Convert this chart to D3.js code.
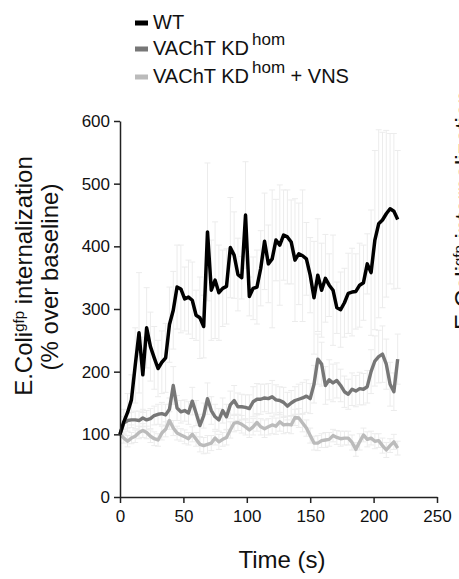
<!DOCTYPE html>
<html>
<head>
<meta charset="utf-8">
<script src="https://cdnjs.cloudflare.com/ajax/libs/d3/7.8.5/d3.min.js"></script>
<style>
  body { margin: 0; background: #fff; }
  svg text { font-family: "Liberation Sans", Arial, sans-serif; fill: #111; }
</style>
</head>
<body>
<div id="chart"></div>
<script>

//Time points (s)
var time = [0,3,6,9,12,15,18,21,24,27,30,33,36,39,42,45,48,51,54,57,60,63,66,69,72,75,78,81,84,87,
	90,93,96,99,102,105,108,111,114,117,120,123,126,129,132,135,138,141,144,147,150,153,156,159,
	162,165,168,171,174,177,180,183,186,189,192,195,198,201,204,207,210,213,216,219];

//WT mean and sem
var wtMean = [100,120,135,155,210,262,195,270,240,222,205,215,222,275,298,335,332,316,319,314,
	290,286,272,423,330,346,326,333,336,398,386,355,350,450,320,333,335,365,408,372,
	380,410,402,418,415,407,378,388,385,380,354,318,354,330,349,338,330,302,299,310,
	325,327,328,338,342,372,358,410,436,442,452,460,456,443];
var wtErr = [0,20,30,40,60,96,60,64,55,50,45,50,55,60,62,67,70,51,59,61,
	40,65,50,110,80,93,76,61,60,80,69,58,34,85,31,50,59,60,77,62,
	110,65,96,72,75,67,98,81,105,58,60,90,90,75,70,50,88,41,60,55,
	64,70,60,67,60,48,100,143,150,140,133,120,124,110];

//VAChT KD hom mean and sem
var kdMean = [100,118,122,123,123,122,126,123,125,130,132,133,131,140,178,142,136,138,134,153,
	134,114,130,157,138,128,123,138,128,147,154,144,144,143,141,152,156,156,158,157,
	160,155,154,151,145,150,154,156,158,161,157,180,220,212,178,187,182,186,178,168,
	164,172,169,173,172,176,200,217,224,228,212,180,168,220];
var kdErr = [0,10,12,12,14,15,14,15,16,15,16,18,17,18,30,20,18,17,18,22,
	20,18,20,25,22,20,18,20,20,22,24,22,20,20,22,24,25,24,22,24,
	26,24,22,24,22,20,22,24,25,26,24,30,40,35,30,32,30,28,26,25,
	24,26,25,26,25,26,35,40,42,45,40,35,30,40];

//VAChT KD hom + VNS mean and sem
var vnsMean = [100,94,89,94,97,103,106,103,97,93,91,102,108,122,110,102,99,96,93,100,
	92,84,82,84,86,94,88,92,95,107,118,119,116,112,107,112,119,112,109,112,
	115,113,120,115,116,115,127,126,118,110,98,86,86,90,91,92,98,95,93,94,
	94,87,76,88,99,92,94,89,90,82,75,82,88,78];
var vnsErr = [0,8,9,9,10,10,11,10,10,11,10,11,12,14,12,11,10,11,10,12,
	11,12,13,14,12,11,12,11,12,13,14,13,14,13,12,13,14,13,14,13,
	14,13,15,14,13,14,13,15,14,13,12,11,12,11,12,11,10,11,12,11,
	11,12,11,13,11,12,11,12,11,12,12,11,12,11];

//Axis ticks
var xTicks = [0,50,100,150,200,250];
var yTicks = [0,100,200,300,400,500,600];

var seriesNames = ["WT", "VAChT KD", "VAChT KD"];
var seriesColors = ["#000000", "#777777", "#bbbbbb"];

var series = [
	{mean: wtMean, err: wtErr, color: seriesColors[0], width: 3.5},
	{mean: kdMean, err: kdErr, color: seriesColors[1], width: 3.4},
	{mean: vnsMean, err: vnsErr, color: seriesColors[2], width: 3.4}
];

var width = 459,
	height = 579;

var svg = d3.select("#chart").append("svg")
	.attr("width", width)
	.attr("height", height);

var x = d3.scaleLinear().domain([0, 250]).range([120, 437]);
var y = d3.scaleLinear().domain([0, 600]).range([497, 121]);

///////////////////////////////////////////////////////////////////////////
/////////////////////////////// Error bars ////////////////////////////////
///////////////////////////////////////////////////////////////////////////

var errG = svg.append("g")
	.attr("stroke", "#ececec")
	.attr("stroke-width", 1)
	.attr("fill", "none");

series.forEach(function(s) {
	var pts = time.map(function(t, i) { return {t: t, m: s.mean[i], e: s.err[i]}; })
		.filter(function(d) { return d.e > 0; });
	var g = errG.append("g");
	g.selectAll(".whisker")
		.data(pts)
		.enter().append("line")
		.attr("x1", function(d) { return x(d.t); })
		.attr("x2", function(d) { return x(d.t); })
		.attr("y1", function(d) { return y(d.m - d.e); })
		.attr("y2", function(d) { return y(d.m + d.e); });
	g.selectAll(".capTop")
		.data(pts)
		.enter().append("line")
		.attr("x1", function(d) { return x(d.t) - 3; })
		.attr("x2", function(d) { return x(d.t) + 3; })
		.attr("y1", function(d) { return y(d.m + d.e); })
		.attr("y2", function(d) { return y(d.m + d.e); });
	g.selectAll(".capBot")
		.data(pts)
		.enter().append("line")
		.attr("x1", function(d) { return x(d.t) - 3; })
		.attr("x2", function(d) { return x(d.t) + 3; })
		.attr("y1", function(d) { return y(d.m - d.e); })
		.attr("y2", function(d) { return y(d.m - d.e); });
});

///////////////////////////////////////////////////////////////////////////
///////////////////////////////// Lines ///////////////////////////////////
///////////////////////////////////////////////////////////////////////////

var line = d3.line()
	.x(function(d) { return x(d[0]); })
	.y(function(d) { return y(d[1]); });

//draw light first so black is on top
series.slice().reverse().forEach(function(s) {
	svg.append("path")
		.datum(time.map(function(t, i) { return [t, s.mean[i]]; }))
		.attr("d", line)
		.attr("fill", "none")
		.attr("stroke", s.color)
		.attr("stroke-width", s.width)
		.attr("stroke-linejoin", "round");
});

///////////////////////////////////////////////////////////////////////////
///////////////////////////////// Axes ////////////////////////////////////
///////////////////////////////////////////////////////////////////////////

var xAxis = svg.append("g")
	.attr("transform", "translate(0," + y(0) + ")")
	.call(d3.axisBottom(x).tickValues(xTicks).tickSize(6).tickSizeOuter(0).tickPadding(7));

var yAxis = svg.append("g")
	.attr("transform", "translate(" + x(0) + ",0)")
	.call(d3.axisLeft(y).tickValues(yTicks).tickSize(6).tickSizeOuter(0).tickPadding(4));

[xAxis, yAxis].forEach(function(a) {
	a.selectAll("path, line").attr("stroke", "#222").attr("stroke-width", 1.5);
	a.selectAll("text")
		.style("font-size", "17px")
		.style("font-family", "'Liberation Sans', Arial, sans-serif")
		.attr("fill", "#111");
});

//x title
svg.append("text")
	.attr("x", 282)
	.attr("y", 568)
	.attr("text-anchor", "middle")
	.style("font-size", "24px")
	.text("Time (s)");

//y title, two lines
var yt1 = svg.append("text")
	.attr("transform", "translate(32,276) rotate(-90)")
	.attr("text-anchor", "middle")
	.style("font-size", "24px");
yt1.append("tspan").text("E.Coli");
yt1.append("tspan").attr("dy", -8).style("font-size", "15px").text("gfp");
yt1.append("tspan").attr("dy", 8).text(" internalization");

svg.append("text")
	.attr("transform", "translate(58,277) rotate(-90)")
	.attr("text-anchor", "middle")
	.style("font-size", "24px")
	.text("(% over baseline)");

//title of the next panel, cut off at the edge
var yt2 = svg.append("text")
	.attr("transform", "translate(472,330) rotate(-90)")
	.attr("text-anchor", "start")
	.style("font-size", "24px");
yt2.append("tspan").text("E.Coli");
yt2.append("tspan").attr("dy", -8).style("font-size", "15px").text("gfp");
yt2.append("tspan").attr("dy", 8).text(" internalization");

///////////////////////////////////////////////////////////////////////////
//////////////////////////////// Legend ///////////////////////////////////
///////////////////////////////////////////////////////////////////////////

var legend = svg.append("g");
var legY = [23, 49, 77];

seriesNames.forEach(function(name, i) {
	legend.append("rect")
		.attr("x", 135)
		.attr("y", legY[i] - 2.5)
		.attr("width", 13)
		.attr("height", 5)
		.attr("fill", seriesColors[i]);

	var t = legend.append("text")
		.attr("x", 153)
		.attr("y", legY[i] + 6)
		.style("font-size", "20px");
	t.append("tspan").text(name);
	if (i > 0) {
		t.append("tspan").attr("dx", 3).attr("dy", -10).style("font-size", "17px").text("hom");
	}
	if (i == 2) {
		t.append("tspan").attr("dy", 10).text(" + VNS");
	}
});

</script>
</body>
</html>
